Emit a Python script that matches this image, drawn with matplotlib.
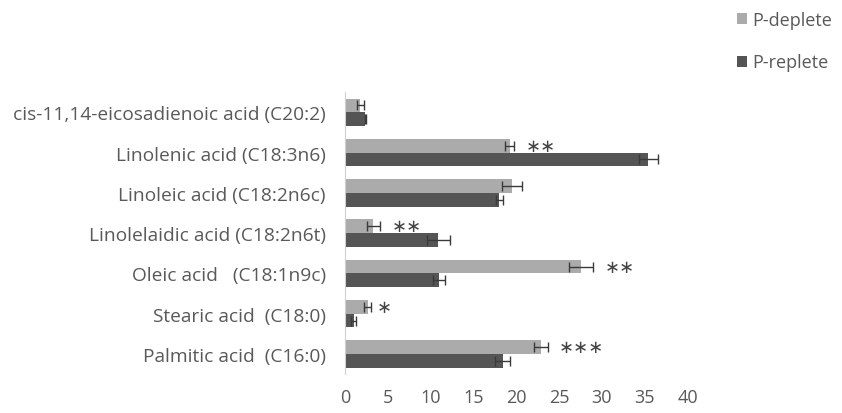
import numpy as np
import matplotlib.pyplot as plt

# fatty acid composition, bottom row first
acids = ["Palmitic acid  (C16:0)", "Stearic acid  (C18:0)", "Oleic acid   (C18:1n9c)",
         "Linolelaidic acid (C18:2n6t)", "Linoleic acid (C18:2n6c)",
         "Linolenic acid (C18:3n6)", "cis-11,14-eicosadienoic acid (C20:2)"]
deplete = [22.9, 2.65, 27.6, 3.3, 19.5, 19.2, 1.75]
deplete_err = [0.8, 0.4, 1.4, 0.8, 1.2, 0.55, 0.4]
replete = [18.4, 1.0, 11.0, 10.9, 18.0, 35.4, 2.35]
replete_err = [0.85, 0.3, 0.7, 1.35, 0.4, 1.1, 0.08]
stars = ["∗∗∗", "∗", "∗∗", "∗∗", "", "∗∗", ""]

light = "#ababab"
dark = "#555555"
txt = "#595959"

plt.rcParams['font.family'] = ['Open Sans', 'DejaVu Sans']

fig = plt.figure(figsize=(8.42, 4.14), dpi=100)
ax = fig.add_axes([0.410, 0.094, 0.4065, 0.681])

y = np.arange(len(acids))
h = 0.34
ekw = dict(ecolor="#3a3a3a", elinewidth=1.0, capsize=3.5, capthick=1.0)
ax.barh(y + h / 2, deplete, height=h, xerr=deplete_err, color=light,
        error_kw=ekw, label="P-deplete")
ax.barh(y - h / 2, replete, height=h, xerr=replete_err, color=dark,
        error_kw=ekw, label="P-replete")

for i, s in enumerate(stars):
    if s:
        gap = 4 if s == "∗" else 8
        ax.annotate(s, (deplete[i] + deplete_err[i], y[i] + h / 2),
                    xytext=(gap, 0), textcoords="offset points",
                    ha="left", va="center", fontsize=13, color="#444444",
                    family="DejaVu Sans")

ax.set_xlim(0, 40)
ax.set_xticks(range(0, 41, 5))
ax.set_ylim(-0.5, len(acids) - 0.5)
ax.set_yticks(y)
ax.set_yticklabels(acids, fontsize=13.8)
ax.tick_params(axis="both", length=0, colors=txt)
ax.tick_params(axis="x", labelsize=13, pad=10)
ax.tick_params(axis="y", pad=14)
for side in ["top", "right", "bottom"]:
    ax.spines[side].set_visible(False)
ax.spines["left"].set_color("#d0d0d0")

fig.legend(loc="upper left", bbox_to_anchor=(0.856, 1.01), frameon=False,
           handlelength=0.55, handleheight=0.55, handletextpad=0.3,
           labelspacing=1.35, fontsize=13, labelcolor=txt)

fig.savefig("out.png", dpi=100)
